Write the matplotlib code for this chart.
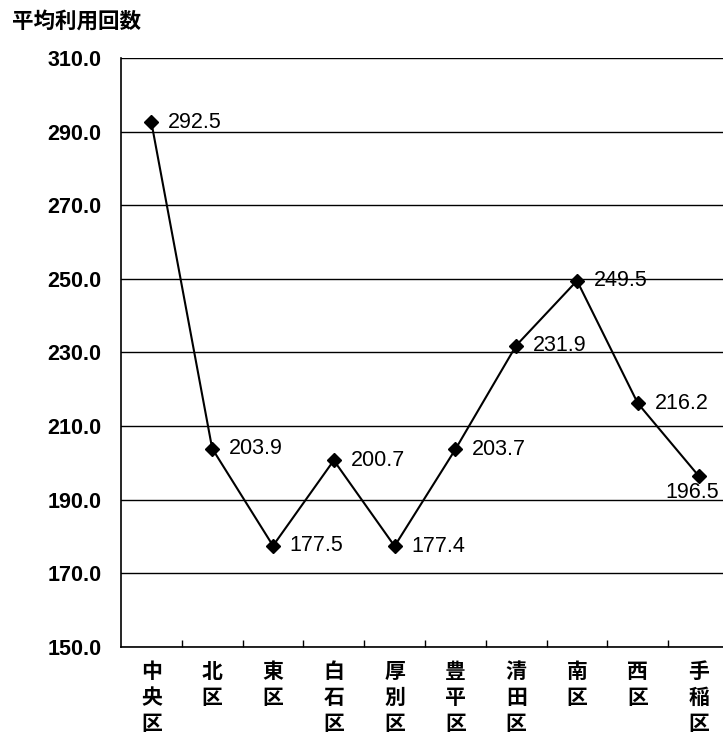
import matplotlib.pyplot as plt
from matplotlib.ticker import FixedLocator

plt.rcParams['font.family'] = ['Liberation Sans', 'Noto Sans CJK JP', 'DejaVu Sans']

# data
wards = ["中央区", "北区", "東区", "白石区", "厚別区", "豊平区", "清田区", "南区", "西区", "手稲区"]
avg_use = [292.5, 203.9, 177.5, 200.7, 177.4, 203.7, 231.9, 249.5, 216.2, 196.5]
y_ticks = [150, 170, 190, 210, 230, 250, 270, 290, 310]

fig = plt.figure(figsize=(7.23, 7.47), dpi=100)
# axes run slightly past the right edge, like the scanned original
ax = fig.add_axes([121 / 723, 100 / 747, 608 / 723, 589 / 747])

x = list(range(len(wards)))
ax.plot(x, avg_use, color="black", lw=1.5, marker="D", ms=7, zorder=3)

# value labels: right of the point, last one below (it sits at the edge)
for i, v in enumerate(avg_use):
    if i == len(wards) - 1:
        off, ha = (15, -12), "right"
    else:
        off, ha = (12, 0), "left"
    ax.annotate(f"{v:.1f}", (i, v), xytext=off, textcoords="offset points",
                ha=ha, va="center", fontsize=15.5, color="black", zorder=4)

ax.set_xlim(-0.5, len(wards) - 0.5)
ax.set_ylim(150, 310)
ax.set_yticks(y_ticks)
ax.set_yticklabels([f"{t:.1f}" for t in y_ticks], fontsize=15.5, fontweight="bold")
ax.yaxis.grid(True, color="black", lw=1.0)
ax.set_axisbelow(True)
ax.tick_params(axis="y", length=0, pad=14)

ax.set_xticks(x)
ax.set_xticklabels(["\n".join(w) for w in wards], fontsize=15, fontweight="bold",
                   family=["Noto Sans CJK JP"], linespacing=1.3, va="top")
ax.xaxis.set_minor_locator(FixedLocator([i + 0.5 for i in x[:-1]]))
ax.tick_params(axis="x", which="major", length=0, pad=10)
ax.tick_params(axis="x", which="minor", direction="in", length=5, width=1)

for s in ["top", "right"]:
    ax.spines[s].set_visible(False)
ax.spines["left"].set_linewidth(1.2)
ax.spines["bottom"].set_linewidth(1.2)

fig.text(12 / 723, 1 - 21 / 747, "平均利用回数", fontsize=15.5, fontweight="bold",
         family=["Noto Sans CJK JP"], va="center", ha="left")

fig.savefig("out.png", dpi=100)
